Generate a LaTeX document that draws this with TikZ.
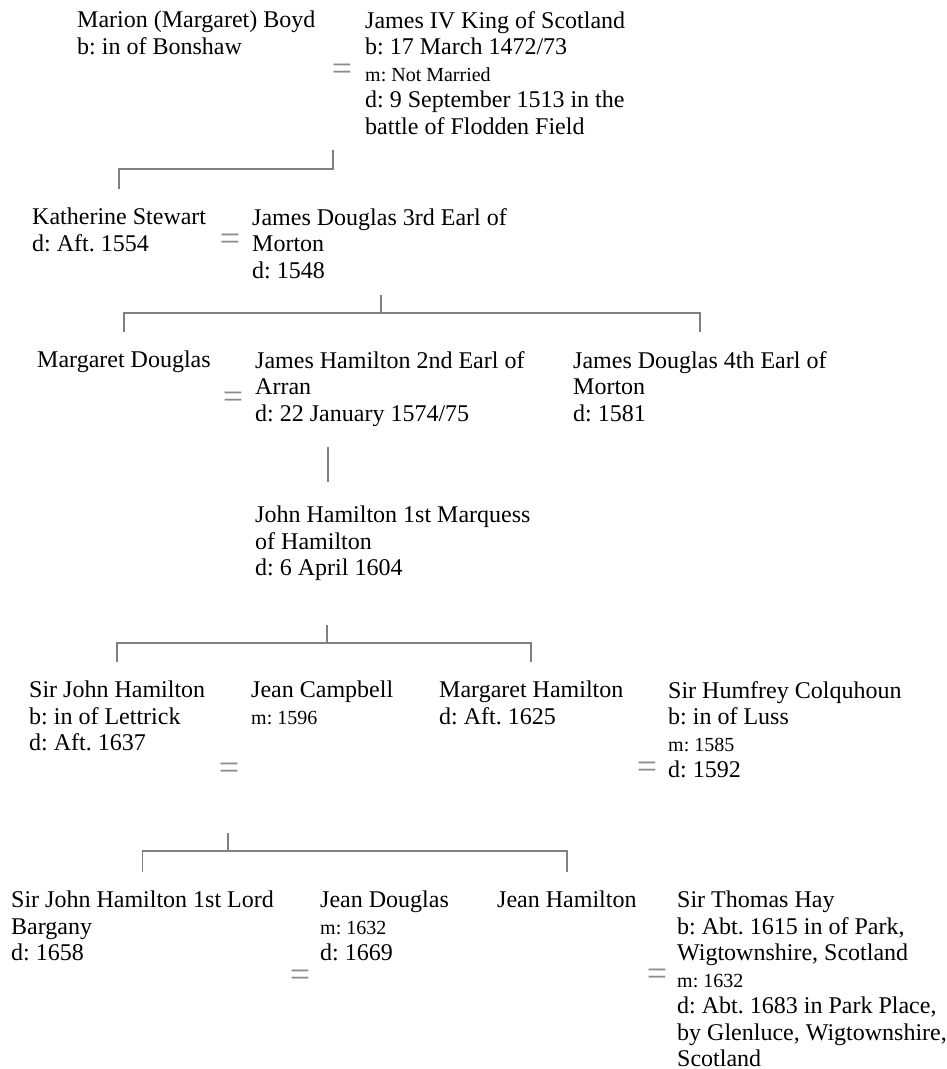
\documentclass[tikz,border=0pt]{standalone}
\usepackage{fontspec}
\setmainfont{Liberation Serif}
\usepackage{tikz}
\usetikzlibrary{calc}
\frenchspacing
\definecolor{linegray}{RGB}{128,128,128}
\definecolor{eqgray}{RGB}{140,140,140}
\newcommand{\wed}[1]{{\fontsize{20}{26.5}\selectfont m: #1}}
\tikzset{
    person/.style={anchor=north west, inner sep=0pt, align=left, font=\fontsize{24}{26.5}\selectfont},
    spouse/.style={inner sep=0pt, text=eqgray, font=\fontsize{36}{36}\selectfont},
    descent/.style={draw=linegray, line width=1.6pt},
    drop/.style={descent, shorten >=19pt}
}
\begin{document}
\begin{tikzpicture}[x=1pt, y=1pt]
        \useasboundingbox (0,0) rectangle (947,-1069);

        \path (77,-11)
            node[person] (marion) {Marion (Margaret) Boyd\\b: in of Bonshaw}
            to ++(0:288) node[person] (james4) {James IV King of Scotland\\b: 17 March 1472/73\\\wed{Not Married}\\d: 9 September 1513 in the\\battle of Flodden Field};
        \node[spouse] (eq1) at (342,-72) {=};

        \path (32,-208)
            node[person] (kath) {Katherine Stewart\\d: Aft. 1554}
            to ++(0:220) node[person] (jd3) {James Douglas 3rd Earl of\\Morton\\d: 1548};
        \node[spouse] (eq2) at (230,-242) {=};

        \path (37,-351)
            node[person] (margD) {Margaret Douglas}
            to ++(0:218) node[person] (jh2) {James Hamilton 2nd Earl of\\Arran\\d: 22 January 1574/75}
            to ++(0:318) node[person] (jd4) {James Douglas 4th Earl of\\Morton\\d: 1581};
        \node[spouse] (eq3) at (233,-400) {=};

        \path (255,-506)
            node[person] (jhm) {John Hamilton 1st Marquess\\of Hamilton\\d: 6 April 1604};

        \path (29,-681)
            node[person] (sjh) {Sir John Hamilton\\b: in of Lettrick\\d: Aft. 1637}
            to ++(0:222) node[person] (jeanC) {Jean Campbell\\\wed{1596}}
            to ++(0:188) node[person] (margH) {Margaret Hamilton\\d: Aft. 1625}
            to ++(0:229) node[person] (humfrey) {Sir Humfrey Colquhoun\\b: in of Luss\\\wed{1585}\\d: 1592};
        \node[spouse] (eq4) at (229,-771) {=};
        \node[spouse] (eq5) at (647,-770) {=};

        \path (11,-891)
            node[person] (sjhl) {Sir John Hamilton 1st Lord\\Bargany\\d: 1658}
            to ++(0:309) node[person] (jeanD) {Jean Douglas\\\wed{1632}\\d: 1669}
            to ++(0:177) node[person] (jeanH) {Jean Hamilton}
            to ++(0:180) node[person] (hay) {Sir Thomas Hay\\b: Abt. 1615 in of Park,\\Wigtownshire, Scotland\\\wed{1632}\\d: Abt. 1683 in Park Place,\\by Glenluce, Wigtownshire,\\Scotland};
        \node[spouse] (eq6) at (300,-978) {=};
        \node[spouse] (eq7) at (657,-977) {=};

        \coordinate (fam1) at (333,-150);
        \draw[drop] (fam1) -- ++(0,-19) -| (kath);

        \coordinate (fam2) at (381,-295);
        \draw[descent] (fam2) -- ++(0,-18) coordinate (bar2);
        \draw[drop] (bar2) -| (margD);
        \draw[drop] (bar2) -| (jd4);

        \coordinate (fam3) at (328,-447);
        \draw[descent] (fam3) -- ($(fam3 |- jhm.north) + (0,24)$);

        \coordinate (fam4) at (327,-625);
        \draw[descent] (fam4) -- ++(0,-18) coordinate (bar4);
        \draw[drop] (bar4) -| (sjh);
        \draw[drop] (bar4) -| (margH);

        \coordinate (fam5) at (228,-833);
        \draw[descent] (fam5) -- ++(0,-18) coordinate (bar5);
        \draw[drop] (bar5) -| (sjhl);
        \draw[drop] (bar5) -| (jeanH);
    \end{tikzpicture}
\end{document}
